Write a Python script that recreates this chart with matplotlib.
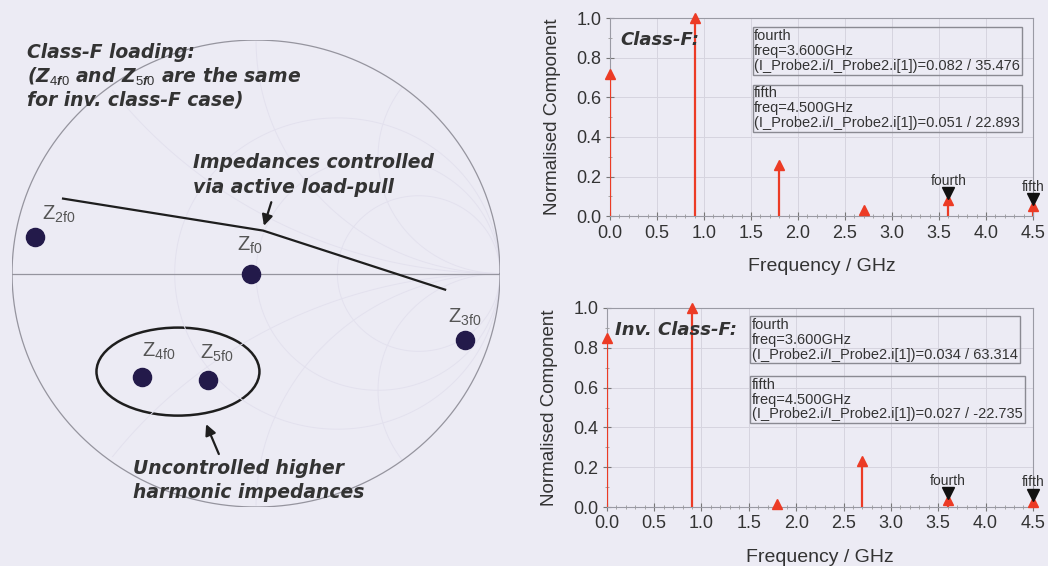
import numpy as np
import matplotlib.pyplot as plt
import matplotlib.transforms as mtransforms
from matplotlib.patches import Ellipse
from matplotlib.ticker import MultipleLocator

plt.rcParams['font.family'] = ['Liberation Sans', 'DejaVu Sans']
plt.rcParams['mathtext.fontset'] = 'custom'
plt.rcParams['mathtext.rm'] = 'Liberation Sans'
plt.rcParams['mathtext.it'] = 'Liberation Sans:bold:italic'

# --- data -------------------------------------------------------------
# harmonic frequencies (GHz)
freqs = [0.0, 0.9, 1.8, 2.7, 3.6, 4.5]
# normalised harmonic current components
classf_vals = [0.72, 1.0, 0.26, 0.03, 0.082, 0.051]
invf_vals = [0.85, 1.0, 0.015, 0.23, 0.034, 0.027]

marker_names = ['fourth', 'fifth']
marker_freqs = [3.6, 4.5]
classf_marker_text = ['(I_Probe2.i/I_Probe2.i[1])=0.082 / 35.476',
                      '(I_Probe2.i/I_Probe2.i[1])=0.051 / 22.893']
invf_marker_text = ['(I_Probe2.i/I_Probe2.i[1])=0.034 / 63.314',
                    '(I_Probe2.i/I_Probe2.i[1])=0.027 / -22.735']

# load impedances as reflection coefficients (real, imag)
imp_labels = ['Z$_\\mathrm{f0}$', 'Z$_\\mathrm{2f0}$', 'Z$_\\mathrm{3f0}$',
              'Z$_\\mathrm{4f0}$', 'Z$_\\mathrm{5f0}$']
imp_re = [-0.02, -0.906, 0.857, -0.467, -0.197]
imp_im = [0.0, 0.158, -0.283, -0.445, -0.454]
# label offsets in points
lab_dx = [-10, 5, -12, 0, -6]
lab_dy = [20, 16, 16, 19, 19]

# load-pull locus
locus_re = [-0.791, 0.029, 0.775]
locus_im = [0.321, 0.184, -0.069]

bg = '#ecebf4'
red = '#ec3b25'
txt = '#333333'

fig = plt.figure(figsize=(10.48, 5.66), dpi=100, facecolor=bg)

# --- Smith chart --------------------------------------------------------
ax = fig.add_axes([0.0115, 0.1042, 0.4656, 0.825])
ax.set_facecolor(bg)
ax.set_xlim(-1, 1)
ax.set_ylim(-1, 1)
ax.axis('off')

th = np.linspace(0, 2 * np.pi, 400)
# faint constant resistance / reactance circles
for r in [0.5, 1.0, 2.0]:
    c = 1 / (1 + r)
    ax.plot(r / (1 + r) + c * np.cos(th), c * np.sin(th), color='#e3e1ee', lw=0.7)
for x in [0.5, 1.0, 2.0]:
    rad = 1 / x
    for s in [1, -1]:
        px = 1 + rad * np.cos(th)
        py = s * rad + rad * np.sin(th)
        inside = px ** 2 + py ** 2 <= 1.0
        px = np.where(inside, px, np.nan)
        ax.plot(px, py, color='#e3e1ee', lw=0.7)
ax.plot(np.cos(th), np.sin(th), color='#95949e', lw=0.9)
ax.plot([-1, 1], [0, 0], color='#95949e', lw=0.9)

ax.plot(locus_re, locus_im, color='#1e1e1e', lw=1.6)
ax.add_patch(Ellipse((-0.32, -0.42), 0.668, 0.377, fill=False,
                     ec='#1e1e1e', lw=1.8))
ax.scatter(imp_re, imp_im, s=170, color='#231a4a', zorder=5)
for lab, x, y, dx, dy in zip(imp_labels, imp_re, imp_im, lab_dx, lab_dy):
    ax.annotate(lab, (x, y), xytext=(dx, dy), textcoords='offset points',
                fontsize=14.5, color='#555555', va='center', ha='left')

bfont = dict(family='DejaVu Sans', fontweight='bold', fontstyle='italic',
             color=txt, fontsize=13.5)
fig.text(27 / 1048, 1 - 52 / 566, 'Class-F loading:', va='center', **bfont)
fig.text(27 / 1048, 1 - 76 / 566, '(Z$_{\\mathit{4f0}}$ and Z$_{\\mathit{5f0}}$ are the same',
         va='center', **bfont)
fig.text(27 / 1048, 1 - 100 / 566, 'for inv. class-F case)', va='center', **bfont)

ax.annotate('', xy=(0.029, 0.193), xytext=(0.066, 0.317),
            arrowprops=dict(arrowstyle='-|>', color='#1e1e1e', lw=1.6, mutation_scale=16))
fig.text(193 / 1048, 1 - 162 / 566, 'Impedances controlled', va='center', **bfont)
fig.text(193 / 1048, 1 - 188 / 566, 'via active load-pull', va='center', **bfont)

ax.annotate('', xy=(-0.209, -0.634), xytext=(-0.148, -0.784),
            arrowprops=dict(arrowstyle='-|>', color='#1e1e1e', lw=1.6, mutation_scale=16))
fig.text(133 / 1048, 1 - 469 / 566, 'Uncontrolled higher', va='center', **bfont)
fig.text(133 / 1048, 1 - 493 / 566, 'harmonic impedances', va='center', **bfont)


# --- spectrum plots -----------------------------------------------------
def spectrum(rect, vals, title, title_x, boxes, box_tops):
    a = fig.add_axes(rect)
    a.set_facecolor(bg)
    a.set_xlim(0, 4.5)
    a.set_ylim(0, 1.0)
    a.xaxis.set_major_locator(MultipleLocator(0.5))
    a.xaxis.set_minor_locator(MultipleLocator(0.1))
    a.yaxis.set_major_locator(MultipleLocator(0.2))
    a.yaxis.set_minor_locator(MultipleLocator(0.1))
    a.xaxis.set_major_formatter(plt.FormatStrFormatter('%.1f'))
    a.yaxis.set_major_formatter(plt.FormatStrFormatter('%.1f'))
    a.grid(True, which='major', color='#d6d4df', lw=0.7)
    a.set_axisbelow(True)
    for s in a.spines.values():
        s.set_color('#9a9aa4')
        s.set_linewidth(0.8)
    a.tick_params(which='major', direction='inout', length=6, color='#777777',
                  labelsize=13, labelcolor=txt, pad=3)
    a.tick_params(which='minor', direction='inout', length=3, color='#999999')
    a.set_xlabel('Frequency / GHz', fontsize=14, color=txt, labelpad=12)
    a.set_ylabel('Normalised Component', fontsize=13.5, color=txt, labelpad=11)

    a.vlines(freqs, 0, vals, color=red, lw=1.6, zorder=3)
    a.plot(freqs, vals, ls='none', marker='^', ms=7, color=red, zorder=4, clip_on=False)

    lift = a.transData + mtransforms.ScaledTranslation(0, 5 / 72, fig.dpi_scale_trans)
    for name, f in zip(marker_names, marker_freqs):
        v = vals[freqs.index(f)]
        a.plot([f], [v], ls='none', marker='v', ms=8, color='#111111', zorder=5,
               clip_on=False, transform=lift)
        a.annotate(name, (f, v), xytext=(0, 14), textcoords='offset points',
                   ha='center', va='center', fontsize=10, color=txt,
                   annotation_clip=False)

    a.text(title_x, 0.89, title, family='DejaVu Sans', fontsize=13,
           fontweight='bold', fontstyle='italic', color=txt,
           va='center', ha='left', zorder=6)
    for name, f, line, top in zip(marker_names, marker_freqs, boxes, box_tops):
        a.text(1.535, top, '%s\nfreq=%.3fGHz\n%s' % (name, f, line), fontsize=10.5,
               color=txt, va='top', ha='left', linespacing=1.08,
               bbox=dict(boxstyle='square,pad=0.12', fc='none', ec='#8a8a92', lw=1.0))
    return a


spectrum([0.582, 0.618, 0.4037, 0.35], classf_vals, 'Class-F:', 0.11,
         classf_marker_text, [0.945, 0.655])
spectrum([0.579, 0.104, 0.4066, 0.352], invf_vals, 'Inv. Class-F:', 0.085,
         invf_marker_text, [0.95, 0.65])

fig.savefig('out.png', dpi=100, facecolor=bg)
